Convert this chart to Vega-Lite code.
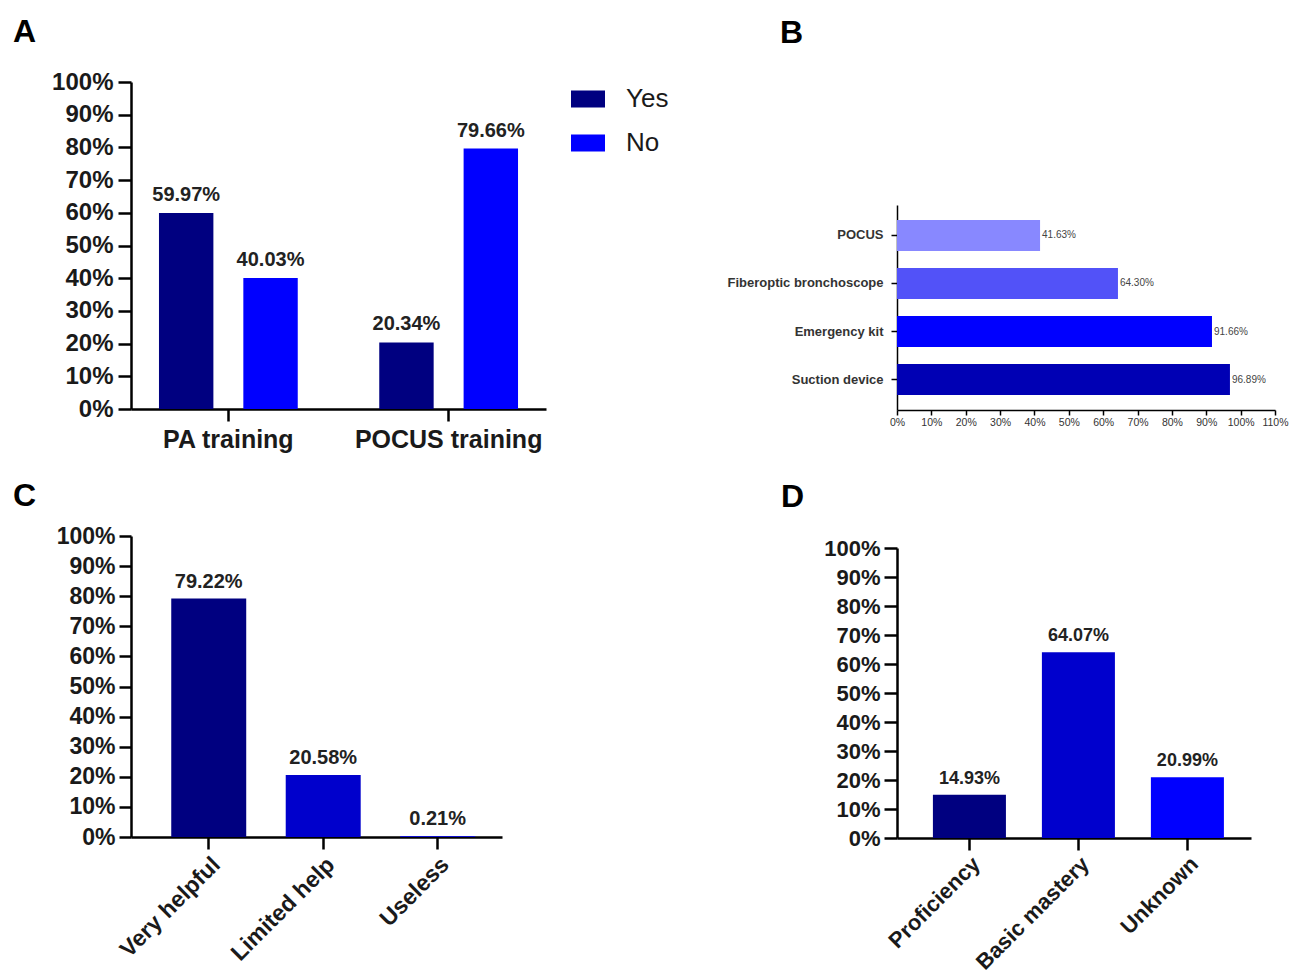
{
  "$schema": "https://vega.github.io/schema/vega-lite/v6.json",
  "background": "white",
  "padding": {"left": 13, "top": 16, "right": 5, "bottom": 5},
  "datasets": {
    "a": [
      {"training": "PA training", "answer": "Yes", "percent": 0.5997},
      {"training": "PA training", "answer": "No", "percent": 0.4003},
      {"training": "POCUS training", "answer": "Yes", "percent": 0.2034},
      {"training": "POCUS training", "answer": "No", "percent": 0.7966}
    ],
    "b": [
      {"item": "POCUS", "percent": 0.4163},
      {"item": "Fiberoptic bronchoscope", "percent": 0.6430},
      {"item": "Emergency kit", "percent": 0.9166},
      {"item": "Suction device", "percent": 0.9689}
    ],
    "c": [
      {"rating": "Very helpful", "percent": 0.7922},
      {"rating": "Limited help", "percent": 0.2058},
      {"rating": "Useless", "percent": 0.0021}
    ],
    "d": [
      {"level": "Proficiency", "percent": 0.1493},
      {"level": "Basic mastery", "percent": 0.6407},
      {"level": "Unknown", "percent": 0.2099}
    ]
  },
  "config": {
    "view": {"stroke": null},
    "font": "Liberation Sans",
    "axis": {
      "labelFont": "Liberation Sans",
      "labelFontWeight": "bold",
      "labelColor": "#1a1a1a",
      "domainColor": "#000000",
      "domainWidth": 2.5,
      "tickColor": "#000000",
      "tickWidth": 2.5,
      "grid": false,
      "labelLimit": 0
    },
    "title": {"anchor": "start", "frame": "group", "fontSize": 32, "font": "Liberation Sans", "fontWeight": "bold", "color": "#000000"}
  },
  "resolve": {"scale": {"color": "independent", "x": "independent", "y": "independent"}, "legend": {"color": "independent"}},
  "spacing": 57,
  "hconcat": [
    {
      "spacing": 28,
      "resolve": {"scale": {"color": "independent", "x": "independent", "y": "independent"}, "legend": {"color": "independent"}},
      "vconcat": [
        {
          "width": 415,
          "height": 327,
          "title": {"text": "A", "dx": -118, "offset": 21},
          "data": {"name": "a"},
          "encoding": {
            "x": {"field": "training", "type": "nominal", "sort": ["PA training", "POCUS training"],
                  "scale": {"paddingInner": 0.37, "paddingOuter": 0.127},
                  "axis": {"title": null, "labelAngle": 0, "labelFontSize": 25, "labelPadding": 6, "tickSize": 12}},
            "xOffset": {"field": "answer", "type": "nominal", "sort": ["Yes", "No"], "scale": {"paddingInner": 0.355}},
            "y": {"field": "percent", "type": "quantitative", "scale": {"domain": [0, 1]},
                  "axis": {"title": null, "values": [0, 0.1, 0.2, 0.3, 0.4, 0.5, 0.6, 0.7, 0.8, 0.9, 1], "format": ".0%", "labelFontSize": 24, "tickSize": 13, "labelPadding": 5}}
          },
          "layer": [
            {
              "mark": {"type": "bar"},
              "encoding": {
                "color": {"field": "answer", "type": "nominal", "sort": ["Yes", "No"],
                          "scale": {"domain": ["Yes", "No"], "range": ["#000080", "#0000FF"]},
                          "legend": {"orient": "none", "legendX": 440, "legendY": 0, "title": null,
                                     "symbolType": "M-1,-0.5H1V0.5H-1Z", "symbolSize": 1156, "symbolStrokeWidth": 0,
                                     "labelFontSize": 26, "labelFont": "Liberation Sans", "labelFontWeight": "normal",
                                     "labelColor": "#1a1a1a", "labelOffset": 21, "rowPadding": 14}}
              }
            },
            {
              "mark": {"type": "text", "baseline": "bottom", "dy": -8, "fontSize": 20, "fontWeight": "bold", "font": "Liberation Sans", "color": "#222222"},
              "encoding": {"text": {"field": "percent", "type": "quantitative", "format": ".2%"}}
            }
          ]
        },
        {
          "width": 371,
          "height": 301,
          "title": {"text": "C", "dx": -118, "offset": 12},
          "data": {"name": "c"},
          "encoding": {
            "x": {"field": "rating", "type": "nominal", "sort": ["Very helpful", "Limited help", "Useless"],
                  "scale": {"paddingInner": 0.345, "paddingOuter": 0.293, "align": 0.6},
                  "axis": {"title": null, "labelAngle": -45, "labelFontSize": 23, "tickSize": 12, "labelPadding": 4}},
            "y": {"field": "percent", "type": "quantitative", "scale": {"domain": [0, 1]},
                  "axis": {"title": null, "values": [0, 0.1, 0.2, 0.3, 0.4, 0.5, 0.6, 0.7, 0.8, 0.9, 1], "format": ".0%", "labelFontSize": 23, "tickSize": 12, "labelPadding": 4}}
          },
          "layer": [
            {
              "mark": {"type": "bar"},
              "encoding": {
                "color": {"field": "rating", "type": "nominal",
                          "scale": {"domain": ["Very helpful", "Limited help", "Useless"], "range": ["#000080", "#0000CC", "#0000FF"]},
                          "legend": null}
              }
            },
            {
              "mark": {"type": "text", "baseline": "bottom", "dy": -7, "fontSize": 20, "fontWeight": "bold", "font": "Liberation Sans", "color": "#222222"},
              "encoding": {"text": {"field": "percent", "type": "quantitative", "format": ".2%"}}
            }
          ]
        }
      ]
    },
    {
      "spacing": 53,
      "resolve": {"scale": {"color": "independent", "x": "independent", "y": "independent"}, "legend": {"color": "independent"}},
      "vconcat": [
        {
          "width": 378,
          "height": 328,
          "title": {"text": "B", "dx": -117, "offset": 32},
          "data": {"name": "b"},
          "encoding": {
            "y": {"field": "item", "type": "nominal", "sort": ["POCUS", "Fiberoptic bronchoscope", "Emergency kit", "Suction device"],
                  "scale": {"range": [123, 328], "paddingInner": 0.35, "paddingOuter": 0.31},
                  "axis": {"title": null, "labelFontSize": 13, "labelColor": "#333333", "tickSize": 6, "labelPadding": 8, "domainWidth": 1.5, "tickWidth": 1.5}},
            "x": {"field": "percent", "type": "quantitative", "scale": {"domain": [0, 1.1]},
                  "axis": {"title": null, "values": [0, 0.1, 0.2, 0.3, 0.4, 0.5, 0.6, 0.7, 0.8, 0.9, 1, 1.1], "format": ".0%", "labelFontSize": 10.5, "labelFontWeight": "normal", "labelColor": "#333333", "labelOverlap": false, "labelFlush": false, "tickSize": 5, "domainWidth": 1.5, "tickWidth": 1.5}}
          },
          "layer": [
            {
              "mark": {"type": "bar"},
              "encoding": {
                "color": {"field": "item", "type": "nominal",
                          "scale": {"domain": ["POCUS", "Fiberoptic bronchoscope", "Emergency kit", "Suction device"], "range": ["#8888FF", "#5252F8", "#0000FF", "#0000B4"]},
                          "legend": null}
              }
            },
            {
              "mark": {"type": "text", "align": "left", "baseline": "middle", "dx": 2, "fontSize": 10, "font": "Liberation Sans", "color": "#444444"},
              "encoding": {"text": {"field": "percent", "type": "quantitative", "format": ".2%"}}
            }
          ]
        },
        {
          "width": 354,
          "height": 290,
          "title": {"text": "D", "dx": -116, "offset": 23},
          "data": {"name": "d"},
          "encoding": {
            "x": {"field": "level", "type": "nominal", "sort": ["Proficiency", "Basic mastery", "Unknown"],
                  "scale": {"paddingInner": 0.33, "paddingOuter": 0.289, "align": 0.57},
                  "axis": {"title": null, "labelAngle": -45, "labelFontSize": 22, "tickSize": 12, "labelPadding": 3}},
            "y": {"field": "percent", "type": "quantitative", "scale": {"domain": [0, 1]},
                  "axis": {"title": null, "values": [0, 0.1, 0.2, 0.3, 0.4, 0.5, 0.6, 0.7, 0.8, 0.9, 1], "format": ".0%", "labelFontSize": 22, "tickSize": 13, "labelPadding": 4}}
          },
          "layer": [
            {
              "mark": {"type": "bar"},
              "encoding": {
                "color": {"field": "level", "type": "nominal",
                          "scale": {"domain": ["Proficiency", "Basic mastery", "Unknown"], "range": ["#000080", "#0000CD", "#0000FF"]},
                          "legend": null}
              }
            },
            {
              "mark": {"type": "text", "baseline": "bottom", "dy": -7, "fontSize": 18, "fontWeight": "bold", "font": "Liberation Sans", "color": "#222222"},
              "encoding": {"text": {"field": "percent", "type": "quantitative", "format": ".2%"}}
            }
          ]
        }
      ]
    }
  ]
}
